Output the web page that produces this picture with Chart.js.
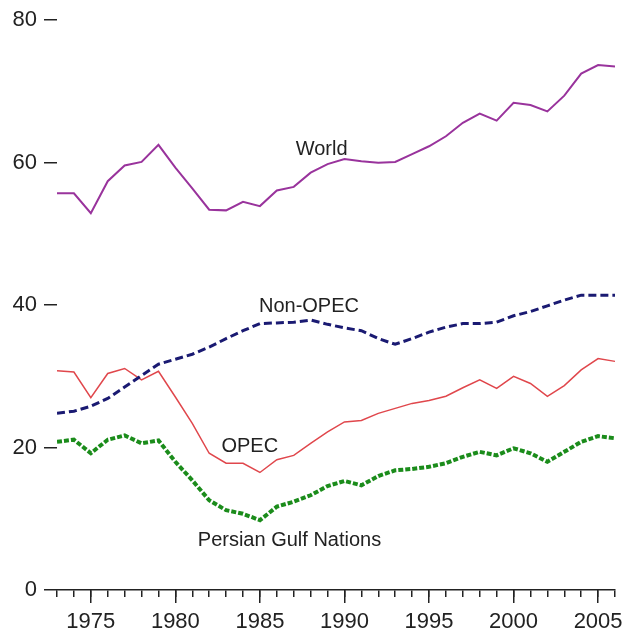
<!DOCTYPE html>
<html>
<head>
<meta charset="utf-8">
<script src="https://cdn.jsdelivr.net/npm/chart.js@4/dist/chart.umd.min.js"></script>
<style>
  html, body { margin: 0; padding: 0; background: #fff; }
  canvas { display: block; }
</style>
</head>
<body>
<canvas id="c" width="629" height="633"></canvas>
<script>
const years = [1973,1974,1975,1976,1977,1978,1979,1980,1981,1982,
               1983,1984,1985,1986,1987,1988,1989,1990,1991,1992,
               1993,1994,1995,1996,1997,1998,1999,2000,2001,2002,
               2003,2004,2005,2006];
const world = [55.7,55.7,52.9,57.4,59.6,60.1,62.5,59.3,56.4,53.4,
               53.3,54.5,53.9,56.1,56.6,58.6,59.8,60.5,60.2,60.0,
               60.1,61.2,62.3,63.7,65.6,66.9,65.9,68.4,68.1,67.2,
               69.4,72.5,73.7,73.5];
const nonOpec = [24.8,25.1,25.8,26.9,28.5,30.1,31.7,32.4,33.1,34.1,
                 35.3,36.4,37.4,37.5,37.6,37.9,37.3,36.8,36.4,35.3,
                 34.5,35.3,36.2,36.9,37.4,37.4,37.6,38.5,39.1,39.9,
                 40.7,41.4,41.4,41.4];
const opec = [30.8,30.6,27.0,30.4,31.1,29.5,30.7,27.1,23.4,19.2,
              17.8,17.8,16.5,18.3,18.9,20.6,22.2,23.6,23.8,24.8,
              25.5,26.2,26.6,27.2,28.4,29.5,28.3,30.0,29.0,27.2,
              28.7,30.9,32.5,32.1];
const gulf = [20.8,21.1,19.2,21.1,21.7,20.6,21.0,18.0,15.4,12.6,
              11.2,10.7,9.8,11.7,12.4,13.3,14.6,15.3,14.7,16.0,
              16.8,17.0,17.3,17.8,18.7,19.4,18.9,19.9,19.2,18.0,
              19.4,20.8,21.6,21.3];
const seriesNames = ["World", "Non-OPEC", "OPEC", "Persian Gulf Nations"];
const yTicks = [0, 20, 40, 60, 80];
const xLabelYears = [1975, 1980, 1985, 1990, 1995, 2000, 2005];

const FONT = "'Liberation Sans', Arial, Helvetica, sans-serif";
const TXT = '#222222';
const pts = arr => years.map((y, i) => ({x: y, y: arr[i]}));

// label anchor positions in data coordinates
const labelPos = [
  {x: 1988.65, y: 61.8},
  {x: 1987.9, y: 39.8},
  {x: 1984.4, y: 20.1},
  {x: 1986.75, y: 7.0}
];

const labelPlugin = {
  id: 'seriesLabels',
  afterDatasetsDraw(chart) {
    const ctx = chart.ctx;
    const xs = chart.scales.x, ys = chart.scales.y;
    ctx.save();
    ctx.font = '20px ' + FONT;
    ctx.fillStyle = TXT;
    ctx.textAlign = 'center';
    ctx.textBaseline = 'middle';
    seriesNames.forEach((n, i) => {
      ctx.fillText(n, xs.getPixelForValue(labelPos[i].x), ys.getPixelForValue(labelPos[i].y));
    });
    ctx.restore();
  }
};

new Chart(document.getElementById('c'), {
  type: 'line',
  data: {
    datasets: [
      {label: seriesNames[0], data: pts(world), borderColor: '#99339c', borderWidth: 2, pointRadius: 0, tension: 0},
      {label: seriesNames[1], data: pts(nonOpec), borderColor: '#1a1a72', borderWidth: 3, borderDash: [8, 4], pointRadius: 0, tension: 0},
      {label: seriesNames[2], data: pts(opec), borderColor: '#e0474c', borderWidth: 1.5, pointRadius: 0, tension: 0},
      {label: seriesNames[3], data: pts(gulf), borderColor: '#1b8c1b', borderWidth: 4, borderDash: [5, 2], pointRadius: 0, tension: 0}
    ]
  },
  options: {
    responsive: false,
    animation: false,
    devicePixelRatio: 1,
    layout: {padding: {top: 19, right: 11, left: 0, bottom: 0}},
    plugins: {legend: {display: false}, tooltip: {enabled: false}},
    scales: {
      x: {
        type: 'linear', position: 'bottom', weight: 0,
        min: years[0], max: years[years.length - 1],
        ticks: {stepSize: 1, display: false},
        grid: {drawOnChartArea: false, drawTicks: true, tickLength: 7, color: TXT, lineWidth: 1.5},
        border: {display: true, color: TXT, width: 1.5},
        afterFit: s => { s.height = 0; }
      },
      x2: {
        type: 'linear', position: 'bottom', weight: 1,
        min: years[0], max: years[years.length - 1],
        afterBuildTicks: s => { s.ticks = xLabelYears.map(v => ({value: v})); },
        ticks: {autoSkip: false, maxRotation: 0, padding: 6, color: TXT, font: {size: 22, family: FONT},
                callback: v => String(v)},
        grid: {drawOnChartArea: false, drawTicks: true, tickLength: 13, color: TXT, lineWidth: 1.5},
        border: {display: false},
        afterFit: s => { s.height = 43; }
      },
      y: {
        type: 'linear', position: 'left',
        min: 0, max: 80,
        afterBuildTicks: s => { s.ticks = yTicks.map(v => ({value: v})); },
        ticks: {padding: 7, color: TXT, font: {size: 22, family: FONT}},
        grid: {drawOnChartArea: false, drawTicks: true, tickLength: 13, color: TXT, lineWidth: 1.5},
        border: {display: false},
        afterFit: s => { s.width = 57; }
      }
    }
  },
  plugins: [labelPlugin]
});
</script>
</body>
</html>
